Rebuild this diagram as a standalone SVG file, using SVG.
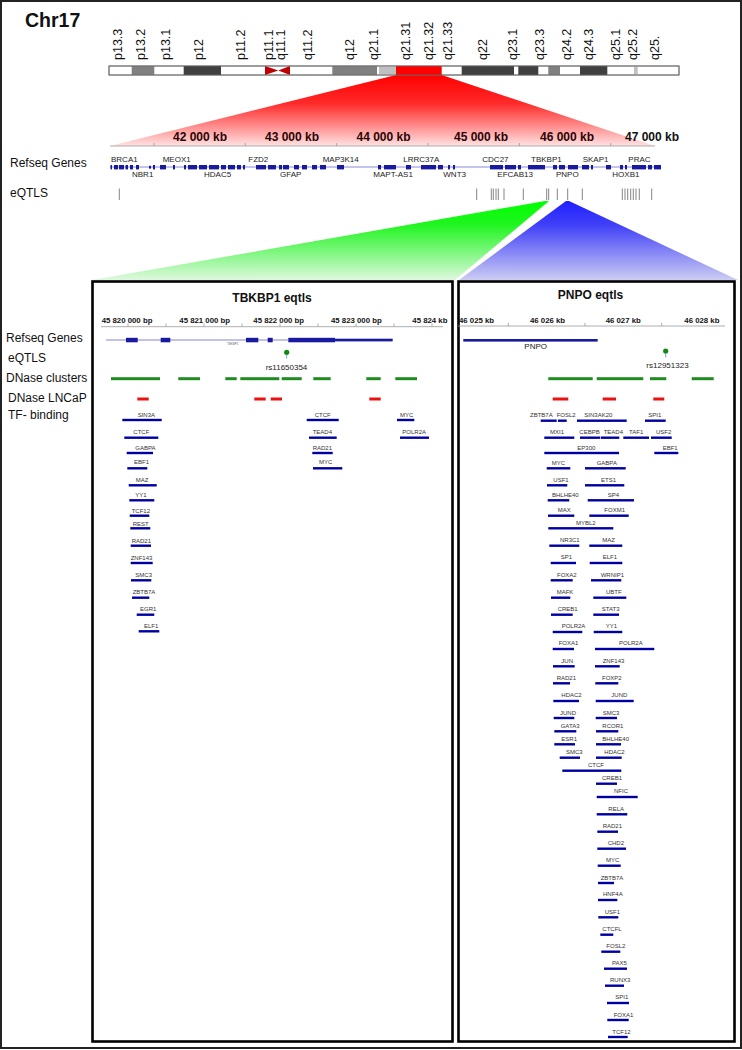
<svg xmlns="http://www.w3.org/2000/svg" width="742" height="1050" viewBox="0 0 742 1050">
<defs>
<linearGradient id="gRed" x1="0" y1="0" x2="0" y2="1"><stop offset="0" stop-color="#ff0000"/><stop offset="0.4" stop-color="#ff2a2a"/><stop offset="1" stop-color="#ffe2e2"/></linearGradient>
<linearGradient id="gGreen" x1="0" y1="0" x2="0" y2="1"><stop offset="0" stop-color="#00ff00"/><stop offset="0.3" stop-color="#20f520"/><stop offset="1" stop-color="#def8de"/></linearGradient>
<linearGradient id="gBlue" x1="0" y1="0" x2="0" y2="1"><stop offset="0" stop-color="#2020ff"/><stop offset="0.3" stop-color="#4040f8"/><stop offset="1" stop-color="#ccccf4"/></linearGradient>
<style>
text{font-family:"Liberation Sans",Arial,sans-serif;}
.lbl{font-size:12px;fill:#111;}
.band{font-size:12.5px;fill:#111;}
.kb{font-size:12px;font-weight:bold;fill:#2a0505;}
.gn{font-size:8px;fill:#222;}
.bp{font-size:7.8px;font-weight:bold;fill:#111;}
.ttl{font-size:12px;font-weight:bold;fill:#111;text-anchor:middle;}
.tf rect{fill:#0000a0;}
.tf text{font-size:6px;fill:#333;}
.blk{fill:#1a1aa0;}
.eq{stroke:#777;stroke-width:0.9;}
.dn{fill:#1e8c1e;}
.ln{fill:#ee1111;}
.panel{fill:none;stroke:#000;stroke-width:2.6;}
.tick{stroke:#999;stroke-width:0.8;}
</style>
</defs>
<rect x="0" y="0" width="742" height="1050" fill="#fff"/>
<rect x="1" y="1" width="740" height="1047" fill="none" stroke="#222" stroke-width="2"/>

<g id="title"><text x="25" y="27.3" style="font-size:19.5px;font-weight:bold;fill:#111">Chr17</text></g>

<g id="connectors">
<polygon points="396,75 441.7,75 655,146 110,146" fill="url(#gRed)"/>
<polygon points="545,201 549,201 455,280 92,280" fill="url(#gGreen)"/>
<polygon points="566,201 569,201 738,280 459,280" fill="url(#gBlue)"/>
</g>

<g id="chromosome">
<rect x="109" y="66" width="570" height="9" fill="#fff" stroke="#666" stroke-width="0.8"/>
<rect x="131.7" y="66" width="22.6" height="9" fill="#808080"/>
<rect x="183.7" y="66" width="37.3" height="9" fill="#404040"/>
<polygon points="265,66 278.3,70.5 265,75" fill="#c00000"/>
<polygon points="290,66 278.3,70.5 290,75" fill="#c00000"/>
<rect x="332.3" y="66" width="44.7" height="9" fill="#808080"/>
<rect x="379" y="66" width="17" height="9" fill="#c0c0c0"/>
<rect x="396" y="66" width="45.7" height="9" fill="#ff0000"/>
<rect x="461.7" y="66" width="52.3" height="9" fill="#404040"/>
<rect x="518.3" y="66" width="20" height="9" fill="#404040"/>
<rect x="548.3" y="66" width="11.7" height="9" fill="#808080"/>
<rect x="580" y="66" width="27.3" height="9" fill="#404040"/>
<rect x="634" y="66" width="3.7" height="9" fill="#c0c0c0"/>
<rect x="109" y="66" width="570" height="9" fill="none" stroke="#666" stroke-width="0.8"/>
<g class="band">
<text transform="translate(122,60) rotate(-90)">p13.3</text>
<text transform="translate(145,60) rotate(-90)">p13.2</text>
<text transform="translate(170,60) rotate(-90)">p13.1</text>
<text transform="translate(203.3,60) rotate(-90)">p12</text>
<text transform="translate(245,60) rotate(-90)">p11.2</text>
<text transform="translate(272.8,60) rotate(-90)">p11.1</text>
<text transform="translate(285.3,60) rotate(-90)">q11.1</text>
<text transform="translate(312,60) rotate(-90)">q11.2</text>
<text transform="translate(353.6,60) rotate(-90)">q12</text>
<text transform="translate(378.3,60) rotate(-90)">q21.1</text>
<text transform="translate(410,60) rotate(-90)">q21.31</text>
<text transform="translate(433.3,60) rotate(-90)">q21.32</text>
<text transform="translate(451.6,60) rotate(-90)">q21.33</text>
<text transform="translate(486.6,60) rotate(-90)">q22</text>
<text transform="translate(516.6,60) rotate(-90)">q23.1</text>
<text transform="translate(543.6,60) rotate(-90)">q23.3</text>
<text transform="translate(571,60) rotate(-90)">q24.2</text>
<text transform="translate(593.3,60) rotate(-90)">q24.3</text>
<text transform="translate(620.3,60) rotate(-90)">q25.1</text>
<text transform="translate(637.3,60) rotate(-90)">q25.2</text>
<text transform="translate(659.3,60) rotate(-90)">q25.</text>
</g>
</g>

<g id="overview-scale">
<line x1="110" y1="146" x2="655" y2="146" stroke="#999" stroke-width="0.8"/>
<g class="tick"><line x1="154" y1="143" x2="154" y2="146"/><line x1="245.3" y1="143" x2="245.3" y2="146"/><line x1="336.7" y1="143" x2="336.7" y2="146"/><line x1="428" y1="143" x2="428" y2="146"/><line x1="519.3" y1="143" x2="519.3" y2="146"/><line x1="610.7" y1="143" x2="610.7" y2="146"/></g>
<g class="kb" text-anchor="middle">
<text x="200" y="140.7">42 000 kb</text>
<text x="292" y="140.7">43 000 kb</text>
<text x="383.5" y="140.7">44 000 kb</text>
<text x="481" y="140.7">45 000 kb</text>
<text x="567" y="140.7">46 000 kb</text>
<text x="652" y="140.7" style="fill:#111">47 000 kb</text>
</g>
</g>

<g id="track-labels-top">
<text class="lbl" x="10" y="167.3">Refseq Genes</text>
<text class="lbl" x="10" y="197.3">eQTLS</text>
</g>

<g id="overview-genes">
<line x1="110" y1="167" x2="661" y2="167" stroke="#6a6ad0" stroke-width="0.8"/>
<g class="blk">
<rect x="110.5" y="165" width="1.5" height="4.4"/><rect x="114" y="165" width="4" height="4.4"/><rect x="119" y="165" width="5" height="4.4"/><rect x="125.5" y="165" width="2.5" height="4.4"/><rect x="130" y="165" width="3" height="4.4"/><rect x="136" y="165" width="3" height="4.4"/><rect x="149" y="165.8" width="2" height="2.8"/><rect x="153" y="165" width="2" height="4.4"/><rect x="160" y="165" width="6" height="4.4"/><rect x="173" y="165" width="2" height="4.4"/><rect x="184" y="165" width="2" height="4.4"/><rect x="188" y="165" width="9" height="4.4"/><rect x="199" y="165" width="8" height="4.4"/><rect x="209" y="165" width="10" height="4.4"/><rect x="221" y="165" width="5" height="4.4"/><rect x="228" y="165" width="7" height="4.4"/><rect x="237" y="165" width="4" height="4.4"/><rect x="243" y="165" width="2" height="4.4"/><rect x="256" y="165" width="10" height="4.4"/><rect x="268" y="165" width="8" height="4.4"/><rect x="279" y="165" width="3" height="4.4"/><rect x="283" y="165" width="6" height="4.4"/><rect x="294" y="165" width="5" height="4.4"/><rect x="302" y="165" width="5" height="4.4"/><rect x="312" y="165" width="5" height="4.4"/><rect x="320" y="165" width="6" height="4.4"/><rect x="337" y="165" width="7" height="4.4"/><rect x="378" y="165" width="3" height="4.4"/><rect x="384" y="165" width="12" height="4.4"/><rect x="406" y="165" width="5" height="4.4"/><rect x="421" y="165" width="15" height="4.4"/><rect x="438" y="165" width="5" height="4.4"/><rect x="448" y="165" width="2" height="4.4"/><rect x="453" y="165" width="2" height="4.4"/><rect x="490" y="165" width="13" height="4.4"/><rect x="505" y="165" width="11" height="4.4"/><rect x="518" y="165" width="3" height="4.4"/><rect x="528" y="165" width="17" height="4.4"/><rect x="553" y="165" width="4" height="4.4"/><rect x="559" y="165" width="6" height="4.4"/><rect x="568" y="165" width="10" height="4.4"/><rect x="582" y="165" width="7" height="4.4"/><rect x="591" y="165" width="2" height="4.4"/><rect x="606" y="165" width="5" height="4.4"/><rect x="620" y="165" width="3" height="4.4"/><rect x="625" y="165" width="2" height="4.4"/><rect x="632" y="165" width="14" height="4.4"/><rect x="648" y="165" width="4" height="4.4"/><rect x="654" y="165" width="7" height="4.4"/>
</g>
<g class="gn">
<text x="111" y="162.3">BRCA1</text><text x="162.7" y="162.3">MEOX1</text><text x="248.3" y="162.3">FZD2</text><text x="322.7" y="162.3">MAP3K14</text><text x="403.3" y="162.3">LRRC37A</text><text x="482.3" y="162.3">CDC27</text><text x="531" y="162.3">TBKBP1</text><text x="582.7" y="162.3">SKAP1</text><text x="628.3" y="162.3">PRAC</text>
<text x="132" y="177.3">NBR1</text><text x="204" y="177.3">HDAC5</text><text x="280" y="177.3">GFAP</text><text x="373.3" y="177.3">MAPT-AS1</text><text x="443.3" y="177.3">WNT3</text><text x="497.3" y="177.3">EFCAB13</text><text x="556" y="176.8">PNPO</text><text x="612.3" y="177.3">HOXB1</text>
</g>
</g>

<g id="overview-eqtls" class="eq">
<line x1="119.3" y1="188.5" x2="119.3" y2="200"/><line x1="476.7" y1="188.5" x2="476.7" y2="200"/><line x1="491.3" y1="188.5" x2="491.3" y2="200"/><line x1="493.3" y1="188.5" x2="493.3" y2="200"/><line x1="496" y1="188.5" x2="496" y2="200"/><line x1="498.3" y1="188.5" x2="498.3" y2="200"/><line x1="504" y1="188.5" x2="504" y2="200"/><line x1="523.3" y1="188.5" x2="523.3" y2="200"/><line x1="546.7" y1="188.5" x2="546.7" y2="200"/><line x1="548.7" y1="188.5" x2="548.7" y2="200"/><line x1="557.3" y1="188.5" x2="557.3" y2="200"/><line x1="567.7" y1="188.5" x2="567.7" y2="200"/><line x1="582.3" y1="188.5" x2="582.3" y2="200"/><line x1="622.3" y1="188.5" x2="622.3" y2="200"/><line x1="625" y1="188.5" x2="625" y2="200"/><line x1="627.7" y1="188.5" x2="627.7" y2="200"/><line x1="630.7" y1="188.5" x2="630.7" y2="200"/><line x1="633.3" y1="188.5" x2="633.3" y2="200"/><line x1="636" y1="188.5" x2="636" y2="200"/><line x1="639.3" y1="188.5" x2="639.3" y2="200"/><line x1="651.7" y1="188.5" x2="651.7" y2="200"/>
</g>

<g id="track-labels">
<text class="lbl" x="6" y="341.7">Refseq Genes</text>
<text class="lbl" x="8" y="362.3">eQTLS</text>
<text class="lbl" x="6" y="381.7">DNase clusters</text>
<text class="lbl" x="8" y="401.7">DNase LNCaP</text>
<text class="lbl" x="8" y="419.3">TF- binding</text>
</g>

<g id="panel-tbkbp1">
<rect class="panel" x="92.5" y="281.5" width="360" height="760"/>
<text class="ttl" x="272" y="302">TBKBP1 eqtls</text>
<line x1="101" y1="326.7" x2="443" y2="326.7" stroke="#999" stroke-width="0.8"/>
<g class="tick"><line x1="128" y1="323.5" x2="128" y2="326.7"/><line x1="166" y1="323.5" x2="166" y2="326.7"/><line x1="204" y1="323.5" x2="204" y2="326.7"/><line x1="242" y1="323.5" x2="242" y2="326.7"/><line x1="280" y1="323.5" x2="280" y2="326.7"/><line x1="318" y1="323.5" x2="318" y2="326.7"/><line x1="356" y1="323.5" x2="356" y2="326.7"/><line x1="394" y1="323.5" x2="394" y2="326.7"/><line x1="432" y1="323.5" x2="432" y2="326.7"/></g>
<g class="bp"><text x="101.7" y="323.3">45 820 000 bp</text><text x="179.3" y="323.3">45 821 000 bp</text><text x="253.3" y="323.3">45 822 000 bp</text><text x="331" y="323.3">45 823 000 bp</text><text x="412.3" y="323.3">45 824 kb</text></g>
<rect x="106" y="339.3" width="182" height="1.4" fill="#a8a8e0"/>
<g class="blk"><rect x="126" y="337.8" width="11.7" height="4.5"/><rect x="160.7" y="337.8" width="9.6" height="4.5"/><rect x="246" y="337.8" width="12.3" height="4.5"/><rect x="267.7" y="337.8" width="5" height="4.5"/><rect x="288.3" y="337.8" width="46.7" height="4.5"/><rect x="335" y="338.7" width="57.7" height="2.7"/></g>
<text x="227" y="344.5" style="font-size:3px;fill:#666">TBKBP1</text>
<line x1="286.7" y1="352.3" x2="286.7" y2="358.5" stroke="#8aa0c8" stroke-width="1"/>
<circle cx="286.7" cy="352.3" r="2.6" fill="#108a10"/>
<text class="gn" x="286.5" y="370" text-anchor="middle">rs11650354</text>
<g class="dn"><rect x="111" y="377.2" width="49" height="3"/><rect x="178.3" y="377.2" width="21.7" height="3"/><rect x="225.3" y="377.2" width="11.4" height="3"/><rect x="240.3" y="377.2" width="39" height="3"/><rect x="281.7" y="377.2" width="20" height="3"/><rect x="313.3" y="377.2" width="17.4" height="3"/><rect x="366.3" y="377.2" width="14.4" height="3"/><rect x="395.3" y="377.2" width="21.7" height="3"/></g>
<g class="ln"><rect x="137.3" y="397.5" width="11.4" height="3"/><rect x="254.3" y="397.5" width="11.4" height="3"/><rect x="270.7" y="397.5" width="11.3" height="3"/><rect x="369.3" y="397.5" width="11.4" height="3"/></g>
<g class="tf">
<rect x="122.3" y="418.8" width="39.4" height="2.4"/><text x="137.7" y="416.7">SIN3A</text>
<rect x="306.7" y="418.8" width="32" height="2.4"/><text x="314.7" y="416.7">CTCF</text>
<rect x="397" y="418.8" width="17.3" height="2.4"/><text x="400" y="416.7">MYC</text>
<rect x="124.3" y="436.5" width="34" height="2.4"/><text x="133.3" y="434">CTCF</text>
<rect x="309" y="436.5" width="27.7" height="2.4"/><text x="312.7" y="434">TEAD4</text>
<rect x="400" y="436.5" width="29" height="2.4"/><text x="402.3" y="434">POLR2A</text>
<rect x="126.7" y="451.8" width="26.3" height="2.4"/><text x="135.3" y="449.7">GABPA</text>
<rect x="312.3" y="451.8" width="20.4" height="2.4"/><text x="312.7" y="449.7">RAD21</text>
<rect x="127.3" y="467.1" width="20" height="2.4"/><text x="134" y="464.3">EBF1</text>
<rect x="313" y="467.1" width="29.3" height="2.4"/><text x="319" y="464.3">MYC</text>
<rect x="128.7" y="484.1" width="28" height="2.4"/><text x="135.7" y="482">MAZ</text>
<rect x="129.3" y="499.1" width="25" height="2.4"/><text x="135.3" y="497.3">YY1</text>
<rect x="129.7" y="514.5" width="19.6" height="2.4"/><text x="131.7" y="512.7">TCF12</text>
<rect x="130.3" y="527.1" width="20" height="2.4"/><text x="132.7" y="525.7">REST</text>
<rect x="130.7" y="544.5" width="20.3" height="2.4"/><text x="131.7" y="542.7">RAD21</text>
<rect x="130.7" y="561.8" width="22" height="2.4"/><text x="130.7" y="559.7">ZNF143</text>
<rect x="131" y="579.1" width="20.3" height="2.4"/><text x="135.3" y="577">SMC3</text>
<rect x="132" y="596.5" width="17.3" height="2.4"/><text x="132.7" y="594.3">ZBTB7A</text>
<rect x="136.7" y="613.5" width="17.6" height="2.4"/><text x="140" y="611.3">EGR1</text>
<rect x="138.7" y="630.1" width="20.6" height="2.4"/><text x="144" y="628.3">ELF1</text>
</g>
</g>

<g id="panel-pnpo">
<rect class="panel" x="458.5" y="281.5" width="276" height="760"/>
<text class="ttl" x="590.5" y="299">PNPO eqtls</text>
<line x1="458" y1="326" x2="725" y2="326" stroke="#999" stroke-width="0.8"/>
<g class="tick"><line x1="508.3" y1="322.8" x2="508.3" y2="326"/><line x1="585" y1="322.8" x2="585" y2="326"/><line x1="661.7" y1="322.8" x2="661.7" y2="326"/></g>
<g class="bp"><text x="459" y="322.7">46 025 kb</text><text x="530" y="322.7">46 026 kb</text><text x="605.7" y="322.7">46 027 kb</text><text x="684.3" y="322.7">46 028 kb</text></g>
<rect x="463.3" y="339" width="134.4" height="2.6" fill="#1a1aa0"/>
<text class="gn" x="524.3" y="349.3">PNPO</text>
<line x1="665.7" y1="351" x2="665.7" y2="357.5" stroke="#8aa0c8" stroke-width="1"/>
<circle cx="665.7" cy="351" r="2.6" fill="#108a10"/>
<text class="gn" x="667.5" y="368.3" text-anchor="middle">rs12951323</text>
<g class="dn"><rect x="548.3" y="377.2" width="44.4" height="3"/><rect x="596.7" y="377.2" width="46.6" height="3"/><rect x="650" y="377.2" width="16.3" height="3"/><rect x="691.7" y="377.2" width="22" height="3"/></g>
<g class="ln"><rect x="552.7" y="397.5" width="15.6" height="3"/><rect x="602.7" y="397.5" width="13.3" height="3"/><rect x="653.3" y="397.5" width="11" height="3"/></g>
<g class="tf">
<rect x="540.7" y="419.5" width="16" height="2.4"/><text x="530" y="417">ZBTB7A</text>
<rect x="558" y="419.5" width="8.7" height="2.4"/><text x="556.7" y="417">FOSL2</text>
<rect x="577" y="419.5" width="49.7" height="2.4"/><text x="584.3" y="417">SIN3AK20</text>
<rect x="645" y="419.5" width="20.7" height="2.4"/><text x="648.3" y="417">SPI1</text>
<rect x="544.3" y="436.5" width="30" height="2.4"/><text x="550" y="434">MXI1</text>
<rect x="580" y="436.5" width="20" height="2.4"/><text x="579.3" y="434">CEBPB</text>
<rect x="600.7" y="436.5" width="18.6" height="2.4"/><text x="603.7" y="434">TEAD4</text>
<rect x="623.3" y="436.5" width="25.7" height="2.4"/><text x="629" y="434">TAF1</text>
<rect x="651" y="436.5" width="20.7" height="2.4"/><text x="656" y="434">USF2</text>
<rect x="544.3" y="451.8" width="74.7" height="2.4"/><text x="577.3" y="449.7">EP300</text>
<rect x="654.3" y="451.8" width="24" height="2.4"/><text x="662.7" y="449.7">EBF1</text>
<rect x="546.7" y="467.1" width="23.6" height="2.4"/><text x="551.7" y="464.7">MYC</text>
<rect x="585" y="467.1" width="40.7" height="2.4"/><text x="596.7" y="464.7">GABPA</text>
<rect x="547" y="484.1" width="20.3" height="2.4"/><text x="553.3" y="481.7">USF1</text>
<rect x="585" y="484.1" width="39.3" height="2.4"/><text x="601" y="481.7">ETS1</text>
<rect x="547.7" y="499.1" width="21.6" height="2.4"/><text x="552" y="496.7">BHLHE40</text>
<rect x="587.7" y="499.1" width="46.3" height="2.4"/><text x="607.7" y="496.7">SP4</text>
<rect x="548" y="514.5" width="26.3" height="2.4"/><text x="557.7" y="512">MAX</text>
<rect x="589.3" y="514.5" width="39.4" height="2.4"/><text x="604.3" y="512">FOXM1</text>
<rect x="548.3" y="527.1" width="65" height="2.4"/><text x="576" y="524.7">MYBL2</text>
<rect x="549.3" y="544.5" width="30" height="2.4"/><text x="560" y="542.3">NR3C1</text>
<rect x="589.3" y="544.5" width="33" height="2.4"/><text x="602.3" y="542.3">MAZ</text>
<rect x="550.7" y="561.8" width="25.3" height="2.4"/><text x="560.7" y="559.3">SP1</text>
<rect x="589.7" y="561.8" width="32.6" height="2.4"/><text x="602.7" y="559.3">ELF1</text>
<rect x="550.7" y="579.1" width="22" height="2.4"/><text x="557" y="576.7">FOXA2</text>
<rect x="591" y="579.1" width="30.3" height="2.4"/><text x="600.7" y="576.7">WRNIP1</text>
<rect x="551" y="596.5" width="19.3" height="2.4"/><text x="556.7" y="594">MAFK</text>
<rect x="593.3" y="596.5" width="33" height="2.4"/><text x="606" y="594">UBTF</text>
<rect x="551" y="613.5" width="21.7" height="2.4"/><text x="557.7" y="611.3">CREB1</text>
<rect x="593.3" y="613.5" width="25.7" height="2.4"/><text x="601.7" y="611.3">STAT3</text>
<rect x="552.7" y="630.8" width="29.6" height="2.4"/><text x="561.7" y="628.3">POLR2A</text>
<rect x="593.7" y="630.8" width="28.6" height="2.4"/><text x="605.7" y="628.3">YY1</text>
<rect x="552.7" y="647.8" width="21.3" height="2.4"/><text x="558.7" y="645.3">FOXA1</text>
<rect x="595" y="647.8" width="59.3" height="2.4"/><text x="619" y="645.3">POLR2A</text>
<rect x="553" y="665.1" width="21.7" height="2.4"/><text x="561.3" y="662.7">JUN</text>
<rect x="595" y="665.1" width="24.7" height="2.4"/><text x="602.7" y="662.7">ZNF143</text>
<rect x="553" y="682.1" width="17" height="2.4"/><text x="556.7" y="680">RAD21</text>
<rect x="595.3" y="682.1" width="23" height="2.4"/><text x="602" y="680">FOXP2</text>
<rect x="553.3" y="699.8" width="25.7" height="2.4"/><text x="561.3" y="697.3">HDAC2</text>
<rect x="595.7" y="699.8" width="38" height="2.4"/><text x="611.3" y="697.3">JUND</text>
<rect x="553.7" y="716.8" width="20.6" height="2.4"/><text x="560" y="714.7">JUND</text>
<rect x="595.7" y="716.8" width="21.3" height="2.4"/><text x="602.7" y="714.7">SMC3</text>
<rect x="554.3" y="730.1" width="22" height="2.4"/><text x="560.7" y="727.7">GATA3</text>
<rect x="596" y="730.1" width="22.3" height="2.4"/><text x="602.3" y="727.7">RCOR1</text>
<rect x="554.3" y="743.1" width="20.7" height="2.4"/><text x="561.3" y="741">ESR1</text>
<rect x="596" y="743.1" width="25" height="2.4"/><text x="602.3" y="741">BHLHE40</text>
<rect x="559.7" y="756.5" width="20.3" height="2.4"/><text x="566" y="754">SMC3</text>
<rect x="596" y="756.5" width="25.7" height="2.4"/><text x="604.3" y="754">HDAC2</text>
<rect x="562.3" y="769.5" width="59" height="2.4"/><text x="588" y="767">CTCF</text>
<rect x="596" y="782.5" width="21" height="2.4"/><text x="602" y="780.3">CREB1</text>
<rect x="596.7" y="795.8" width="41" height="2.4"/><text x="614" y="793.3">NFIC</text>
<rect x="596.7" y="813.1" width="30.6" height="2.4"/><text x="608.3" y="810.7">RELA</text>
<rect x="597.3" y="830.5" width="20.7" height="2.4"/><text x="602.7" y="827.7">RAD21</text>
<rect x="597.3" y="847.5" width="28.7" height="2.4"/><text x="607.7" y="845">CHD2</text>
<rect x="597.7" y="864.5" width="23" height="2.4"/><text x="606" y="862.3">MYC</text>
<rect x="598" y="881.8" width="16" height="2.4"/><text x="600.7" y="879.7">ZBTB7A</text>
<rect x="598" y="898.8" width="19.3" height="2.4"/><text x="603" y="896.3">HNF4A</text>
<rect x="598.3" y="916.1" width="20" height="2.4"/><text x="604.7" y="913.7">USF1</text>
<rect x="600.3" y="933.5" width="13" height="2.4"/><text x="602.3" y="930.7">CTCFL</text>
<rect x="601.3" y="950.5" width="19" height="2.4"/><text x="606.3" y="948">FOSL2</text>
<rect x="604" y="967.5" width="23" height="2.4"/><text x="612" y="965.3">PAX5</text>
<rect x="605" y="984.5" width="19" height="2.4"/><text x="610" y="982.3">RUNX3</text>
<rect x="607" y="1001.8" width="22" height="2.4"/><text x="615.3" y="999.3">SPI1</text>
<rect x="607.3" y="1018.8" width="21.4" height="2.4"/><text x="613.7" y="1016.7">FOXA1</text>
<rect x="608" y="1035.8" width="19.7" height="2.4"/><text x="612.3" y="1033.7">TCF12</text>
</g>
</g>
</svg>
